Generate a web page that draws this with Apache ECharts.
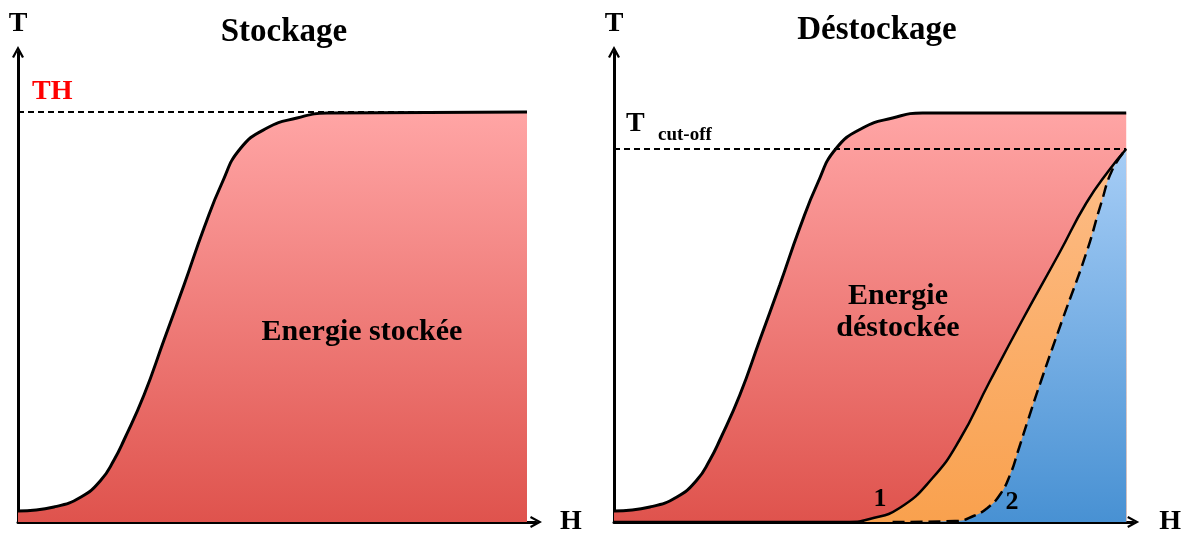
<!DOCTYPE html>
<html>
<head>
<meta charset="utf-8">
<script src="https://cdn.jsdelivr.net/npm/echarts@6/dist/echarts.min.js"></script>
<style>
  html, body { margin: 0; padding: 0; background: #fff; }
  #main { width: 1184px; height: 538px; }
</style>
</head>
<body>
<div id="main"></div>
<script>
// courbes : [H, T] (unités = pixels depuis l'origine)
var stockage = [[0,11],[36,15],[63,25],[83,42],[96,62],[106,82],[126,127],[146,182],[166,237],[186,294],[204,339],[222,373],[249,394],[279,404],[309,409],[509,410]];
var destockage = [[0,11],[36,15],[63,25],[83,42],[96,62],[106,82],[126,127],[146,182],[166,237],[186,294],[204,339],[222,373],[249,394],[279,404],[309,409],[513,409]];
var courbe1 = [[0,0],[236,0],[256,3],[286,14],[319,44],[346,82],[376,140],[409,202],[446,269],[473,319],[496,352],[513,373]];
var courbe2 = [[279,0],[343,1],[360,6],[374,14],[387,28],[397,48],[405,72],[414,100],[428,142],[449,202],[473,269],[488,319],[499,352],[513,373]];
var TH = 410;
var Tcutoff = 373;

var serif = 'Liberation Serif';
var fleche = 'path://M0,11 L6,0 L12,11 L10,12 L6,4.5 L2,12 Z';

function axeX(idx, max, gap) {
    return {
        type: 'value', gridIndex: idx, min: 0, max: max,
        name: 'H', nameLocation: 'end', nameGap: gap,
        nameTextStyle: { fontFamily: serif, fontWeight: 'bold', fontSize: 28, color: '#000', verticalAlign: 'middle' },
        axisLine: { show: true, symbol: ['none', fleche], symbolSize: [12, 12], lineStyle: { color: '#000', width: 3 } },
        axisTick: { show: false }, axisLabel: { show: false }, splitLine: { show: false }
    };
}
function axeY(idx) {
    return {
        type: 'value', gridIndex: idx, min: 0, max: 470,
        name: 'T', nameLocation: 'end', nameGap: 14,
        nameTextStyle: { fontFamily: serif, fontWeight: 'bold', fontSize: 28, color: '#000' },
        axisLine: { show: true, onZero: false, symbol: ['none', fleche], symbolSize: [12, 12], lineStyle: { color: '#000', width: 3 } },
        axisTick: { show: false }, axisLabel: { show: false }, splitLine: { show: false }
    };
}
function degrade(haut, bas) {
    return new echarts.graphic.LinearGradient(0, 0, 0, 1, [
        { offset: 0, color: haut },
        { offset: 1, color: bas }
    ]);
}
function texte(t, x, y, size, couleur, align) {
    return {
        type: 'text', x: x, y: y, z: 100,
        style: { text: t, fontFamily: serif, fontWeight: 'bold', fontSize: size, fill: couleur || '#000', align: align || 'center', verticalAlign: 'middle' }
    };
}

var myChart = echarts.init(document.getElementById('main'));
var option = {
    animation: false,
    grid: [
        { left: 18, top: 52, width: 518, height: 470 },
        { left: 614, top: 52, width: 520, height: 470 }
    ],
    xAxis: [axeX(0, 518, 24), axeX(1, 520, 26)],
    yAxis: [axeY(0), axeY(1)],
    graphic: [
        texte('Stockage', 284, 32, 33),
        texte('Déstockage', 877, 30, 33),
        texte('TH', 32, 92, 28, '#ff0000', 'left'),
        texte('T', 626, 124, 28, '#000', 'left'),
        texte('cut-off', 658, 135, 19, '#000', 'left'),
        texte('Energie stockée', 362, 332, 30),
        texte('Energie', 898, 296, 30),
        texte('déstockée', 898, 328, 30),
        texte('1', 880, 499, 26),
        texte('2', 1012, 502, 26)
    ],
    series: [
        {
            type: 'line', xAxisIndex: 0, yAxisIndex: 0, data: stockage,
            smooth: 0.5, showSymbol: false,
            lineStyle: { color: '#000', width: 3 },
            areaStyle: { color: degrade('#ffa5a5', '#df534d'), opacity: 1 },
            markLine: {
                silent: true, symbol: 'none', label: { show: false },
                lineStyle: { color: '#000', type: [6, 4], width: 2 },
                data: [[{ coord: [0, TH] }, { coord: [509, TH] }]]
            }
        },
        {
            type: 'line', xAxisIndex: 1, yAxisIndex: 1, data: destockage,
            smooth: 0.5, showSymbol: false,
            lineStyle: { color: '#000', width: 3 },
            areaStyle: { color: degrade('#ffa5a5', '#df534d'), opacity: 1 },
            markLine: {
                silent: true, symbol: 'none', label: { show: false },
                lineStyle: { color: '#000', type: [6, 4], width: 2 },
                data: [[{ coord: [0, Tcutoff] }, { coord: [513, Tcutoff] }]]
            }
        },
        {
            type: 'line', xAxisIndex: 1, yAxisIndex: 1, data: courbe1,
            smooth: 0.5, showSymbol: false,
            lineStyle: { color: '#000', width: 2.5 },
            areaStyle: { color: degrade('#fdbd88', '#f9a14e'), opacity: 1 }
        },
        {
            type: 'line', xAxisIndex: 1, yAxisIndex: 1, data: courbe2,
            smooth: 0.5, showSymbol: false,
            lineStyle: { color: '#000', width: 2.5, type: [12, 6] },
            areaStyle: { color: degrade('#a6cdf6', '#4891d3'), opacity: 1 }
        }
    ]
};
myChart.setOption(option);
</script>
</body>
</html>
